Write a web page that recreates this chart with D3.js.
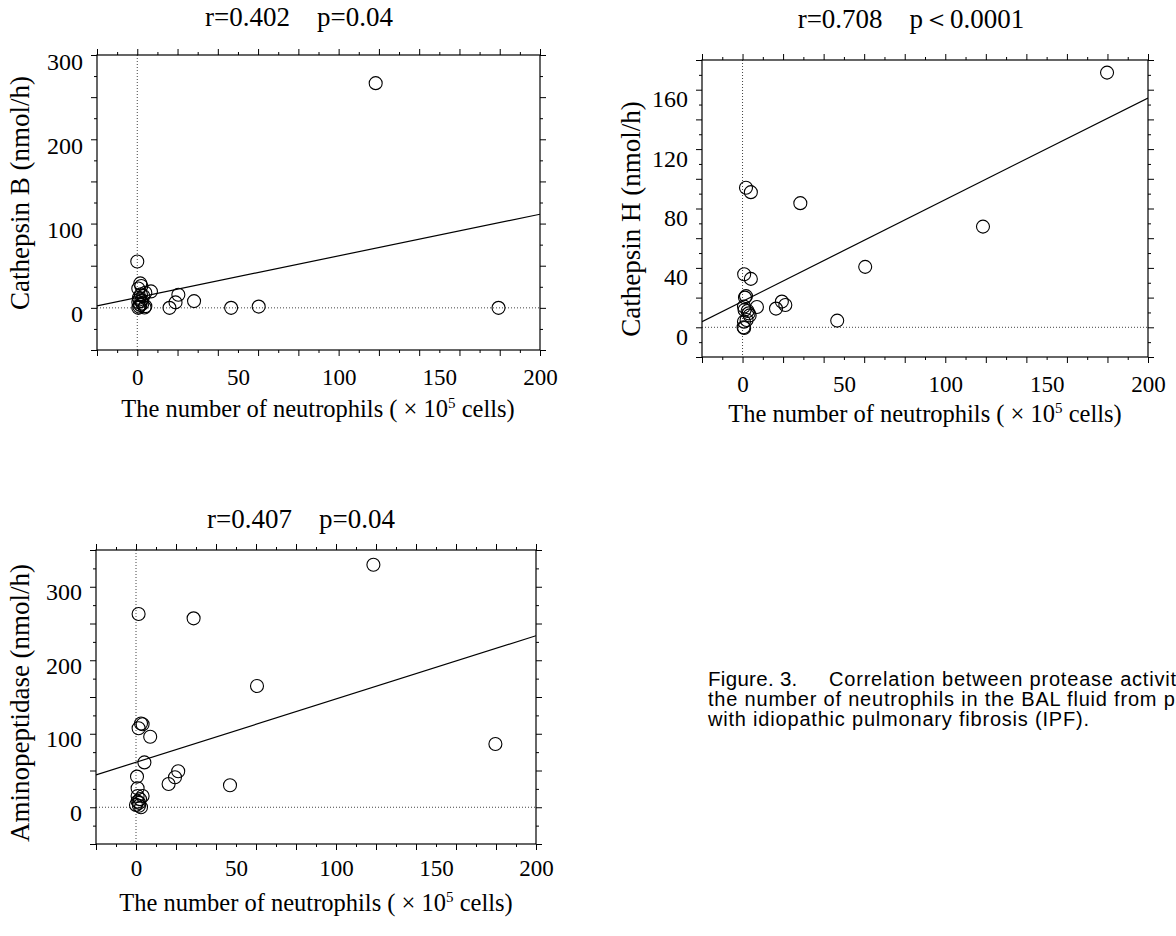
<!DOCTYPE html>
<html>
<head>
<meta charset="utf-8">
<script src="https://cdn.jsdelivr.net/npm/d3@7"></script>
<style>
  html, body { margin: 0; padding: 0; background: #fff; }
  svg { display: block; }
</style>
</head>
<body>
<svg id="chart" width="1176" height="936"></svg>
<script>
// ---------- DATA ----------
const xTickLabels = [0, 50, 100, 150, 200];

// Panel 1: Cathepsin B
const neutroB = [118.4, 0, 179.4, 46.6, 60.3, 28.2, 20.4, 19, 16, 6.8, 1.5, 2, 0.5, 3, 4, 0.5, 1.5, 3.6, 0.5, 1, 2.5, 1, 2, 4, 0.8, 1.8];
const cathB   = [266.6, 55, 0, 0, 1.5, 8, 15.5, 6.5, 0, 19.5, 29, 26, 23, 14, 18, 7, 3.5, 0.5, 0, 10, 5, 1.5, 8, 2, 12, 16];
const fitB = { intercept: 12.3, slope: 0.494 };
const yTicksB = [0, 100, 200, 300];

// Panel 2: Cathepsin H
const neutroH = [179.8, 118.6, 60.5, 46.7, 28.5, 1.7, 4.1, 0.8, 4.1, 1.7, 1.2, 16.5, 19.4, 21.1, 7.1, 0.7, 1, 3, 2, 0.7, 0.5, 0.8, 3.5, 2.5];
const cathH   = [171.5, 67.8, 40.7, 4.5, 83.6, 94, 91, 35.7, 32.6, 21, 20, 12.6, 17.3, 15, 13.7, 14, 11.6, 9.4, 4.9, 3.8, 0, -0.5, 8, 11];
const fitH = { intercept: 17.5, slope: 0.6845 };
const yTicksH = [0, 40, 80, 120, 160];

// Panel 3: Aminopeptidase
const neutroA = [118.7, 1.3, 28.8, 60.5, 179.7, 2.5, 3.3, 1.3, 7.1, 4.2, 0.5, 47, 16.3, 19.5, 21.1, 0.8, 3.3, 0.8, 0.8, 0, 2.5, 1.5, 2, 1.5];
const amino   = [330, 263, 257, 165, 86, 114, 113, 107.5, 96, 61, 41.7, 30, 31.7, 40.8, 49, 25.8, 15.4, 15.4, 7.7, 3.2, 0, 6, 11, 2];
const fitA = { intercept: 61.2, slope: 0.861 };
const yTicksA = [0, 100, 200, 300];

const titles = ["r=0.402\u3000p=0.04", "r=0.708\u3000p\uFF1C0.0001", "r=0.407\u3000p=0.04"];
const yLabels = ["Cathepsin B (nmol/h)", "Cathepsin H (nmol/h)", "Aminopeptidase (nmol/h)"];
const captionLines = [
  ["Figure. 3.", "Correlation between protease activities and"],
  ["", "the number of neutrophils in the BAL fluid from patients"],
  ["", "with idiopathic pulmonary fibrosis (IPF)."]
];

// ---------- DRAW ----------
const svg = d3.select("#chart");
const SERIF = "'Liberation Serif','Times New Roman',Times,serif";
const SANS = "'Liberation Sans',Arial,Helvetica,sans-serif";

function panel(o) {
  const x = d3.scaleLinear().domain([-20, 200]).range([o.left, o.right]);
  const y = d3.scaleLinear().domain(o.yDomain).range([o.bottom, o.top]);
  const g = svg.append("g");

  const cid = "clip" + o.id;
  svg.append("defs").append("clipPath").attr("id", cid)
    .append("rect").attr("x", o.left).attr("y", o.top)
    .attr("width", o.right - o.left).attr("height", o.bottom - o.top);

  // dotted reference lines
  g.append("line").attr("x1", x(0)).attr("x2", x(0)).attr("y1", o.top).attr("y2", o.bottom)
    .attr("stroke", "#444").attr("stroke-width", 1).attr("stroke-dasharray", "1,2");
  g.append("line").attr("x1", o.left).attr("x2", o.right).attr("y1", y(0)).attr("y2", y(0))
    .attr("stroke", "#444").attr("stroke-width", 1).attr("stroke-dasharray", "1,2");

  // tick marks on 4 sides
  const xMaj = d3.range(-20, 201, 20), xMin = d3.range(-10, 200, 20);
  const yMaj = d3.range(o.yDomain[0], o.yDomain[1] + 0.001, o.yMajor);
  const yMin = d3.range(o.yDomain[0] + o.yMajor / 2, o.yDomain[1], o.yMajor);
  const mk = (axis, vals, size, tr) => {
    const a = g.append("g").attr("transform", tr)
      .call(axis.tickValues(vals).tickSize(size).tickSizeOuter(0).tickFormat(""));
    a.select(".domain").remove();
    a.selectAll("line").attr("stroke", "#000").attr("stroke-width", 1);
  };
  mk(d3.axisBottom(x), xMaj, 6, `translate(0,${o.bottom})`);
  mk(d3.axisBottom(x), xMin, 3, `translate(0,${o.bottom})`);
  mk(d3.axisTop(x), xMaj, 6, `translate(0,${o.top})`);
  mk(d3.axisTop(x), xMin, 3, `translate(0,${o.top})`);
  mk(d3.axisLeft(y), yMaj, 6, `translate(${o.left},0)`);
  mk(d3.axisLeft(y), yMin, 3, `translate(${o.left},0)`);
  mk(d3.axisRight(y), yMaj, 6, `translate(${o.right},0)`);
  mk(d3.axisRight(y), yMin, 3, `translate(${o.right},0)`);

  // frame
  g.append("rect").attr("x", o.left).attr("y", o.top)
    .attr("width", o.right - o.left).attr("height", o.bottom - o.top)
    .attr("fill", "none").attr("stroke", "#000").attr("stroke-width", 1.2);

  // tick labels
  const xl = g.append("g").attr("transform", `translate(0,${o.bottom})`)
    .call(d3.axisBottom(x).tickValues(xTickLabels).tickSize(0).tickSizeOuter(0).tickFormat(d3.format("d")));
  xl.select(".domain").remove();
  xl.selectAll("text").attr("y", o.xTickOff).attr("dy", "0.35em")
    .attr("font-family", SERIF).attr("font-size", 23).attr("fill", "#000");

  const yl = g.append("g").attr("transform", `translate(${o.left},0)`)
    .call(d3.axisLeft(y).tickValues(o.yTicks).tickSize(0).tickSizeOuter(0).tickFormat(d3.format("d")));
  yl.select(".domain").remove();
  yl.selectAll("text").attr("x", -14).attr("dy", (o.yTickDy) + "px").attr("dominant-baseline", "central")
    .attr("font-family", SERIF).attr("font-size", 24).attr("fill", "#000");

  // regression line
  g.append("line")
    .attr("x1", x(-20)).attr("y1", y(o.fit.intercept + o.fit.slope * -20))
    .attr("x2", x(200)).attr("y2", y(o.fit.intercept + o.fit.slope * 200))
    .attr("stroke", "#000").attr("stroke-width", 1.2)
    .attr("clip-path", `url(#${cid})`);

  // points
  g.append("g").selectAll("circle").data(d3.zip(o.xs, o.ys)).join("circle")
    .attr("cx", d => x(d[0])).attr("cy", d => y(d[1])).attr("r", 6.5)
    .attr("fill", "none").attr("stroke", "#000").attr("stroke-width", 1.1);

  // title
  g.append("text").attr("x", o.titleX).attr("y", o.titleY).attr("text-anchor", "middle")
    .attr("font-family", SERIF).attr("font-size", 27).attr("fill", "#000").text(o.title);

  // y label
  g.append("text").attr("transform", `translate(${o.ylabX},${o.ylabY}) rotate(-90)`)
    .attr("text-anchor", "middle").attr("dominant-baseline", "central")
    .attr("font-family", SERIF).attr("font-size", 27).attr("fill", "#000").text(o.ylabel);

  // x label
  const t = g.append("text").attr("x", o.xlabX).attr("y", o.xlabY).attr("text-anchor", "middle")
    .attr("font-family", SERIF).attr("font-size", 24.5).attr("fill", "#000");
  t.append("tspan").text("The number of neutrophils ( \u00D7 10");
  t.append("tspan").attr("font-size", 15).attr("dy", -9).text("5");
  t.append("tspan").attr("dy", 9).text(" cells)");
}

panel({ id: 1, left: 97, right: 540, top: 55, bottom: 350, yDomain: [-50, 300], yMajor: 50,
  xs: neutroB, ys: cathB, fit: fitB, yTicks: yTicksB, yTickDy: 6, xTickOff: 27,
  title: titles[0], titleX: 299, titleY: 26, ylabel: yLabels[0], ylabX: 20, ylabY: 193,
  xlabX: 318, xlabY: 417 });

panel({ id: 2, left: 702, right: 1148, top: 60, bottom: 357, yDomain: [-20, 180], yMajor: 20,
  xs: neutroH, ys: cathH, fit: fitH, yTicks: yTicksH, yTickDy: 9, xTickOff: 27,
  title: titles[1], titleX: 911, titleY: 28, ylabel: yLabels[1], ylabX: 631, ylabY: 219,
  xlabX: 925, xlabY: 422 });

panel({ id: 3, left: 96, right: 536, top: 550, bottom: 844, yDomain: [-50, 350], yMajor: 50,
  xs: neutroA, ys: amino, fit: fitA, yTicks: yTicksA, yTickDy: 5, xTickOff: 24,
  title: titles[2], titleX: 301, titleY: 528, ylabel: yLabels[2], ylabX: 20, ylabY: 703,
  xlabX: 316, xlabY: 911 });

// caption
const cap = svg.append("g").attr("font-family", SANS).attr("font-size", 20).attr("fill", "#000")
  .attr("letter-spacing", "0.8px");
captionLines.forEach((ln, i) => {
  const yb = 686 + i * 20;
  if (ln[0]) cap.append("text").attr("x", 708).attr("y", yb).attr("font-size", 20.5).attr("letter-spacing", "0.3px").text(ln[0]);
  cap.append("text").attr("x", ln[0] ? 829 : 708).attr("y", yb).text(ln[1]);
});
</script>
</body>
</html>
